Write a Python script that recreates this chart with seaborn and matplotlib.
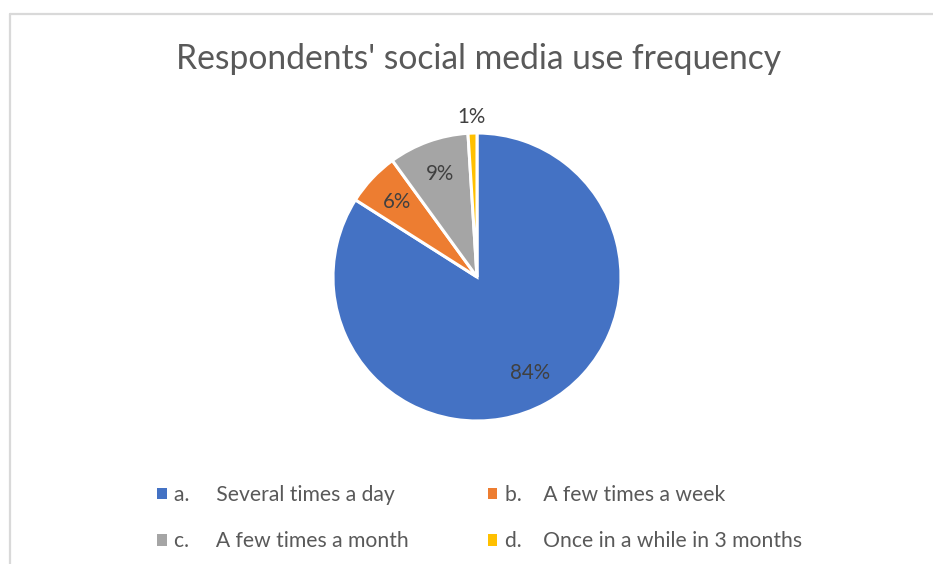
import matplotlib
matplotlib.use("Agg")
import matplotlib.pyplot as plt
from matplotlib.lines import Line2D
from matplotlib.patches import Patch
import numpy as np
import seaborn as sns

sns.set_theme(style="white")
plt.rcParams["font.family"] = ["Lato", "DejaVu Sans"]

# Survey answers and their shares (%)
categories = ["a.     Several times a day", "b.    A few times a week",
              "c.     A few times a month", "d.    Once in a while in 3 months"]
shares = [84, 6, 9, 1]
colors = ["#4472C4", "#ED7D31", "#A5A5A5", "#FFC000"]

W, H = 933, 564
fig = plt.figure(figsize=(W / 100, H / 100), dpi=100)
fig.patch.set_facecolor("white")

# chart frame (left and top edges)
frame_kw = dict(color="#D9D9D9", lw=1.6, transform=fig.transFigure)
fig.add_artist(Line2D([9.5 / W, 9.5 / W], [0, 1 - 13.5 / H], **frame_kw))
fig.add_artist(Line2D([9.5 / W, 1], [1 - 13.5 / H, 1 - 13.5 / H], **frame_kw))

# pie axes: centre (477, 277) px, radius 144 px
cx, cy, r = 477, 277, 144
ax = fig.add_axes([(cx - r) / W, (H - cy - r) / H, 2 * r / W, 2 * r / H])

wedges, texts, autotexts = ax.pie(
    shares, colors=colors, startangle=90, counterclock=False,
    autopct=lambda p: f"{p:.0f}%", pctdistance=0.76,
    wedgeprops=dict(edgecolor="white", linewidth=2.2),
    textprops=dict(color="#404040", fontsize=14.8),
)
ax.set_xlim(-1, 1)
ax.set_ylim(-1, 1)
ax.set_aspect("equal")

# the 1% slice is too thin, so its label sits outside the pie
x, y = autotexts[3].get_position()
autotexts[3].set_position((x * 1.11 / 0.76, y * 1.11 / 0.76))

fig.text(0.5 * (177 + 781) / W, 1 - 59 / H, "Respondents' social media use frequency",
         ha="center", va="center", fontsize=24.2, color="#595959")

handles = [Patch(facecolor=c, edgecolor="none") for c in colors]
order = [0, 2, 1, 3]
leg = fig.legend([handles[i] for i in order], [categories[i] for i in order],
                 ncol=2, loc="upper left", bbox_to_anchor=(157 / W, 1 - 485 / H),
                 frameon=False, fontsize=15.2, labelcolor="#595959",
                 handlelength=0.45, handleheight=0.45, handletextpad=0.35,
                 columnspacing=3.75, labelspacing=1.25, borderpad=0, borderaxespad=0)

fig.savefig("out.png", dpi=100, facecolor="white")
